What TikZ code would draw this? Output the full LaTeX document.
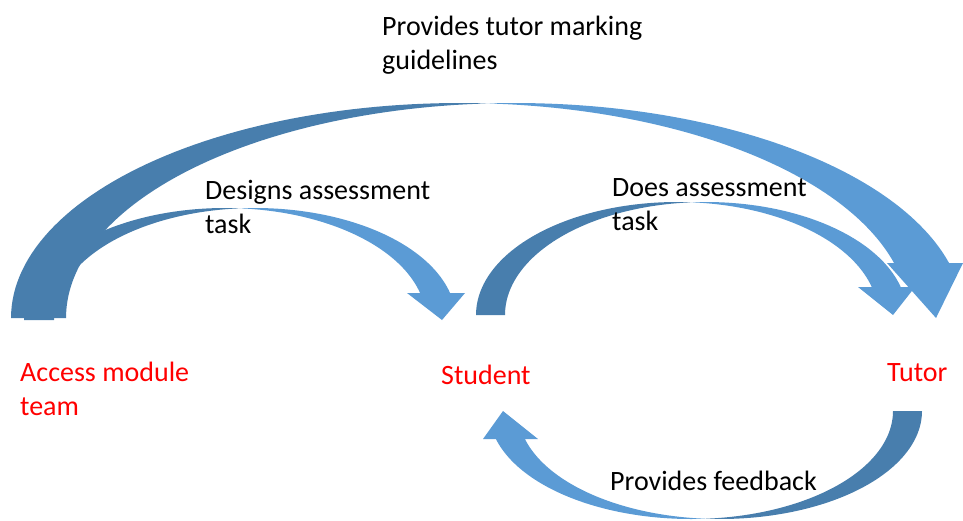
\documentclass[tikz,border=0pt]{standalone}
\usepackage{fontspec}
\setmainfont{Carlito}
\definecolor{backblue}{RGB}{72,126,173}
\definecolor{frontblue}{RGB}{91,155,213}
% curved block arrow: centre x, base y, x radius, y radius, width,
% head depth, left wing x, right wing x, tip x
\newcommand{\bentarrow}[9]{%
  \pgfmathsetmacro{\bta}{360-acos(#5/(2*#3))}
  \pgfmathsetmacro{\btb}{360-acos(-#5/(2*#3))}
  \pgfmathsetmacro{\bth}{360-asin(#6/#4)}
  \fill[backblue] plot[domain=180:\bta,samples=60,variable=\t]
      ({#1+#3*cos(\t)},{#2+#4*sin(\t)})
    -- plot[domain=\btb:180,samples=60,variable=\t]
      ({#1+#5+#3*cos(\t)},{#2+#4*sin(\t)}) -- cycle;
  \fill[frontblue] plot[domain=\btb:\bth,samples=60,variable=\t]
      ({#1+#5+#3*cos(\t)},{#2+#4*sin(\t)})
    -- (#8,#2-#6) -- (#9,#2) -- (#7,#2-#6)
    -- plot[domain=\bth:\bta,samples=60,variable=\t]
      ({#1+#3*cos(\t)},{#2+#4*sin(\t)}) -- cycle;
}

\begin{document}
\begin{tikzpicture}[x=1pt,y=-1pt,
  lbl/.style={anchor=base west,inner sep=0pt,align=left,
    font=\fontsize{28}{34}\selectfont},
  who/.style={lbl,text=red}]
  \useasboundingbox (0,0) rectangle (963,520);
  % arrows
  \bentarrow{460}{318}{449}{215}{55}{55}{887}{963}{936}
  \bentarrow{225}{320}{201}{112}{30}{27}{407}{465}{442}
  \bentarrow{677}{315}{201}{113}{29}{28}{858}{915}{893}
  \begin{scope}[xscale=-1,yscale=-1]
    \bentarrow{-720}{-411}{202}{108}{29}{28}{-538}{-483}{-503}
  \end{scope}
  % labels (base = last line)
  \node[lbl] (guide)  at (382,69)  {Provides tutor marking\\guidelines};
  \node[lbl] (design) at (205,233) {Designs assessment\\task};
  \node[lbl] (does)   at (612,230) {Does assessment\\task};
  \node[lbl] (feed)   at (610,490) {Provides feedback};
  \node[who] (team)   at (20,415)  {Access module\\team};
  \node[who] (stud)   at (441,384) {Student};
  \node[who] (tutor)  at (887,381) {Tutor};
\end{tikzpicture}
\end{document}
